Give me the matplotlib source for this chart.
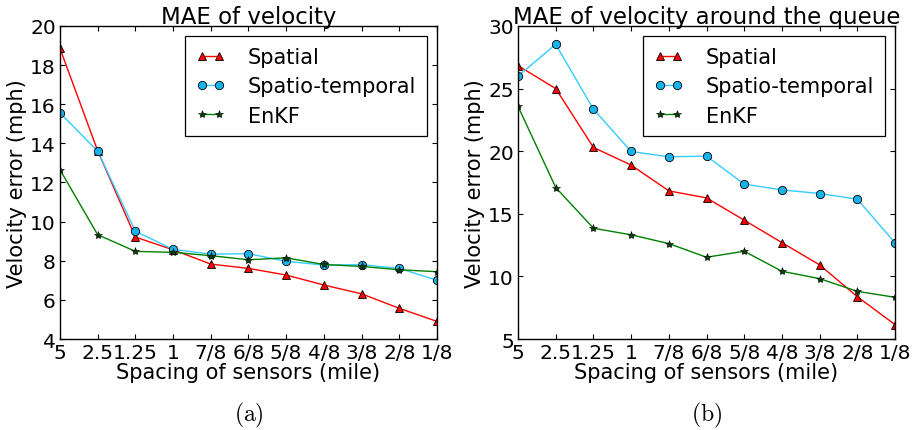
import matplotlib
matplotlib.use("Agg")
import matplotlib.pyplot as plt

spacing = ["5", "2.5", "1.25", "1", "7/8", "6/8", "5/8", "4/8", "3/8", "2/8", "1/8"]

# (a) MAE of velocity
spatial_a = [18.85, 13.62, 9.21, 8.56, 7.83, 7.61, 7.27, 6.76, 6.31, 5.57, 4.90]
spatiotemp_a = [15.56, 13.60, 9.51, 8.58, 8.34, 8.36, 7.97, 7.78, 7.80, 7.61, 7.00]
enkf_a = [12.65, 9.33, 8.48, 8.43, 8.26, 8.05, 8.15, 7.81, 7.71, 7.54, 7.44]

# (b) MAE of velocity around the queue
spatial_b = [26.83, 25.0, 20.30, 18.89, 16.83, 16.27, 14.49, 12.70, 10.92, 8.38, 6.15]
spatiotemp_b = [26.0, 28.53, 23.36, 19.98, 19.55, 19.61, 17.37, 16.91, 16.62, 16.17, 12.68]
enkf_b = [23.58, 17.10, 13.85, 13.32, 12.62, 11.53, 12.01, 10.41, 9.82, 8.81, 8.33]

plt.rcParams['mathtext.fontset'] = 'cm'


def draw_panel(ax, sp, st, ek, title, ylim, yticks, caption):
    x = range(len(spacing))
    ax.plot(x, sp, color='red', marker='^', markersize=6, markeredgecolor='black',
            markeredgewidth=0.6, linewidth=1, label='Spatial')
    ax.plot(x, st, color='#33ccff', marker='o', markersize=6, markerfacecolor='#1ab2ea',
            markeredgecolor='black', markeredgewidth=0.6, linewidth=1, label='Spatio-temporal')
    ax.plot(x, ek, color='green', marker='*', markersize=6, markerfacecolor='#0a3d0a',
            markeredgecolor='black', markeredgewidth=0.4, linewidth=1, label='EnKF')
    ax.set_xlim(0, len(spacing) - 1)
    ax.set_ylim(*ylim)
    ax.set_yticks(yticks)
    ax.set_xticks(list(x))
    ax.set_xticklabels(spacing)
    ax.tick_params(direction='in', top=True, right=True, labelsize=14.5, length=3.5, pad=3)
    ax.set_title(title, fontsize=16.5, pad=2)
    ax.set_xlabel('Spacing of sensors (mile)', fontsize=15, labelpad=0)
    ax.set_ylabel('Velocity error (mph)', fontsize=15, labelpad=2)
    leg = ax.legend(loc='upper right', numpoints=2, fontsize=15, fancybox=False,
                    framealpha=1, edgecolor='black', borderaxespad=0.5,
                    handlelength=1.4, handletextpad=1.1, labelspacing=0.45,
                    borderpad=0.5)
    leg.get_frame().set_linewidth(0.9)
    for s in ax.spines.values():
        s.set_linewidth(1)
    ax.text(0.5, -0.24, caption, transform=ax.transAxes, ha='center', va='center',
            fontsize=17)


fig = plt.figure(figsize=(9.13, 4.31), dpi=100)
ax1 = fig.add_axes([0.0657, 0.2111, 0.4129, 0.7263])
ax2 = fig.add_axes([0.5674, 0.2111, 0.4129, 0.7263])

draw_panel(ax1, spatial_a, spatiotemp_a, enkf_a, 'MAE of velocity', (4, 20),
           range(4, 21, 2), r'$\mathrm{(a)}$')
draw_panel(ax2, spatial_b, spatiotemp_b, enkf_b, 'MAE of velocity around the queue', (5, 30),
           range(5, 31, 5), r'$\mathrm{(b)}$')

fig.savefig('out.png', dpi=100)
